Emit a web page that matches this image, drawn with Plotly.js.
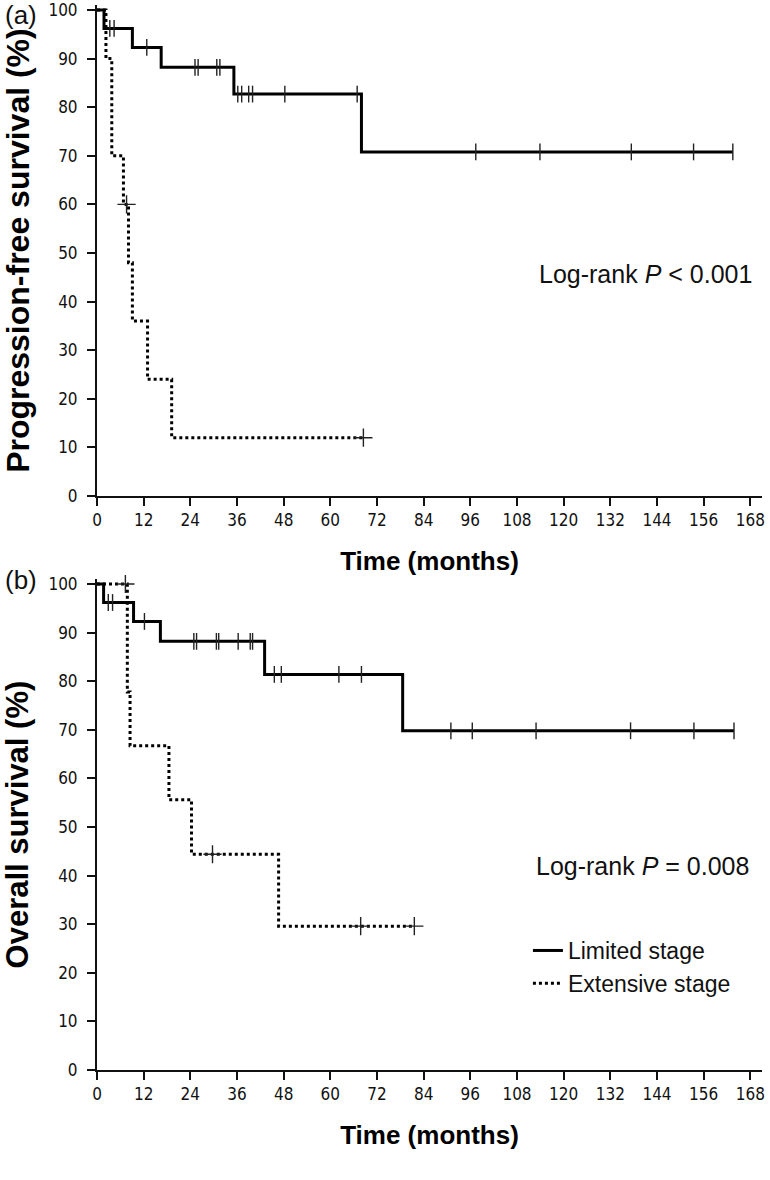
<!DOCTYPE html>
<html>
<head>
<meta charset="utf-8">
<script src="https://cdn.plot.ly/plotly-3.0.1.min.js"></script>
<style>html,body{margin:0;padding:0;background:#fff;}#chart{width:770px;height:1180px;}</style>
</head>
<body>
<div id="chart"></div>
<script>
// ---- Data ----
// (a) Progression-free survival
const pfsLimitedTime = [0, 1.8, 9.1, 16.5, 35.2, 68.0, 163.5];
const pfsLimitedSurv = [100, 96.2, 92.3, 88.2, 82.7, 70.8, 70.8];
const pfsLimitedCensor = [3.3, 4.4, 12.8, 25.2, 26.0, 30.8, 31.6, 36.2, 37.2, 39.0, 40.0, 48.3, 66.9, 97.4, 113.9, 137.4, 153.4, 163.5];

const pfsExtensiveTime = [0, 2.3, 3.8, 6.8, 8.1, 9.1, 13.0, 19.2, 68.5];
const pfsExtensiveSurv = [100, 90, 70, 60, 48, 36, 24, 12, 12];
const pfsExtensiveCensor = [7.6, 68.5];

// (b) Overall survival
const osLimitedTime = [0, 1.7, 9.4, 16.3, 43.1, 78.6, 163.8];
const osLimitedSurv = [100, 96.2, 92.3, 88.2, 81.4, 69.8, 69.8];
const osLimitedCensor = [2.9, 4.0, 12.2, 24.9, 25.6, 30.7, 31.3, 36.3, 39.4, 40.0, 45.6, 47.4, 62.2, 68.0, 91.0, 96.5, 112.9, 137.2, 153.5, 163.8];

const osExtensiveTime = [0, 7.8, 8.5, 18.5, 24.3, 46.7, 81.6];
const osExtensiveSurv = [100, 77.8, 66.7, 55.6, 44.4, 29.6, 29.6];
const osExtensiveCensor = [7.3, 29.7, 67.8, 81.6];

const xTickVals = [0, 12, 24, 36, 48, 60, 72, 84, 96, 108, 120, 132, 144, 156, 168];
const yTickVals = [0, 10, 20, 30, 40, 50, 60, 70, 80, 90, 100];
const seriesNames = ['Limited stage', 'Extensive stage'];

// step-function lookup for censor mark heights
function levelAt(times, surv, t) {
  let v = surv[0];
  for (let i = 0; i < times.length; i++) { if (times[i] <= t) v = surv[i]; }
  return v;
}

function stepTrace(t, s, dashed, xa, ya, name, showleg) {
  return {
    x: t, y: s, type: 'scatter', mode: 'lines', xaxis: xa, yaxis: ya,
    name: name, showlegend: showleg, hoverinfo: 'skip',
    line: {shape: 'hv', color: '#000', width: 3, dash: dashed ? 'dot' : 'solid'}
  };
}
function censorTrace(ct, t, s, dashed, xa, ya) {
  return {
    x: ct, y: ct.map(c => levelAt(t, s, c)), type: 'scatter', mode: 'markers',
    xaxis: xa, yaxis: ya, showlegend: false, hoverinfo: 'skip', cliponaxis: false,
    marker: {symbol: dashed ? 'cross-thin' : 'line-ns', size: dashed ? 13 : 12,
             color: '#222', line: {color: '#222', width: 1.4}}
  };
}

const traces = [
  stepTrace(pfsLimitedTime, pfsLimitedSurv, false, 'x', 'y', seriesNames[0], false),
  stepTrace(pfsExtensiveTime, pfsExtensiveSurv, true, 'x', 'y', seriesNames[1], false),
  censorTrace(pfsLimitedCensor, pfsLimitedTime, pfsLimitedSurv, false, 'x', 'y'),
  censorTrace(pfsExtensiveCensor, pfsExtensiveTime, pfsExtensiveSurv, true, 'x', 'y'),
  stepTrace(osLimitedTime, osLimitedSurv, false, 'x2', 'y2', seriesNames[0], true),
  stepTrace(osExtensiveTime, osExtensiveSurv, true, 'x2', 'y2', seriesNames[1], true),
  censorTrace(osLimitedCensor, osLimitedTime, osLimitedSurv, false, 'x2', 'y2'),
  censorTrace(osExtensiveCensor, osExtensiveTime, osExtensiveSurv, true, 'x2', 'y2')
];

const SANS = 'Liberation Sans, Arial, sans-serif';
const tickFont = {family: 'DejaVu Sans Condensed, DejaVu Sans, sans-serif', size: 17, color: '#111'};
const titleFont = {family: SANS, size: 26, color: '#000', weight: 'bold'};

function xAxis(anchor) {
  return {
    anchor: anchor, range: [0, 171], tickvals: xTickVals, ticktext: xTickVals.map(String),
    showgrid: false, zeroline: false, showline: true, linecolor: '#111', linewidth: 2,
    ticks: 'outside', ticklen: 8, tickwidth: 2, tickcolor: '#111', tickfont: tickFont,
    ticklabeloverflow: 'allow',
    title: {text: 'Time (months)', font: titleFont, standoff: 22}
  };
}
function yAxis(anchor, domain, title, size) {
  return {
    anchor: anchor, domain: domain, range: [0, 101], tickvals: yTickVals, ticktext: yTickVals.map(String),
    showgrid: false, zeroline: false, showline: true, linecolor: '#111', linewidth: 2,
    ticks: 'outside', ticklen: 8, tickwidth: 2, tickcolor: '#111', tickfont: tickFont,
    ticklabeloverflow: 'allow', ticklabelstandoff: 6,
    title: {text: title, font: {family: SANS, size: size, color: '#000', weight: 'bold'}, standoff: 20}
  };
}

const layout = {
  width: 770, height: 1180,
  margin: {l: 97, r: 8, t: 0, b: 0},
  paper_bgcolor: '#fff', plot_bgcolor: '#fff',
  showlegend: true,
  xaxis: xAxis('y'),
  yaxis: yAxis('x', [0.57966, 0.99564], 'Progression-free survival (%)', 32),
  xaxis2: xAxis('y2'),
  yaxis2: yAxis('x2', [0.09322, 0.50919], 'Overall survival (%)', 31),
  legend: {x: 0.648, xanchor: 'left', y: 0.2127, yanchor: 'top', bgcolor: 'rgba(0,0,0,0)',
           font: {family: SANS, size: 23, color: '#111'},
           traceorder: 'normal', tracegroupgap: 0},
  annotations: [
    {text: '(a)', xref: 'paper', yref: 'paper', x: -0.1414, y: 0.9870, xanchor: 'left', yanchor: 'middle',
     showarrow: false, font: {family: SANS, size: 26, color: '#111'}},
    {text: '(b)', xref: 'paper', yref: 'paper', x: -0.1414, y: 0.5085, xanchor: 'left', yanchor: 'middle',
     showarrow: false, font: {family: SANS, size: 26, color: '#111'}},
    {text: 'Log-rank <i>P</i> &lt; 0.001', xref: 'x', yref: 'y', x: 113.2, y: 45.7, xanchor: 'left', yanchor: 'middle',
     showarrow: false, font: {family: SANS, size: 25, color: '#111'}},
    {text: 'Log-rank <i>P</i> = 0.008', xref: 'x2', yref: 'y2', x: 112.4, y: 42.0, xanchor: 'left', yanchor: 'middle',
     showarrow: false, font: {family: SANS, size: 25, color: '#111'}}
  ]
};

Plotly.newPlot('chart', traces, layout, {staticPlot: true, displayModeBar: false});
</script>
</body>
</html>
